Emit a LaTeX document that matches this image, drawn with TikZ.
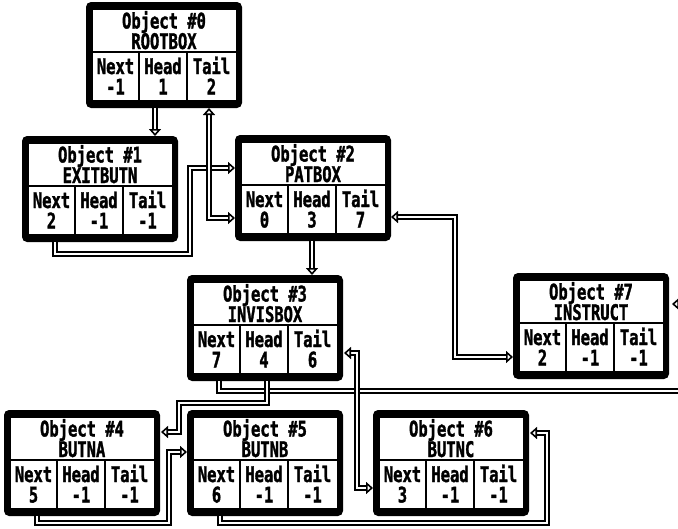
\documentclass[tikz,border=0pt]{standalone}
\usepackage{fontspec}
\newfontfamily\objfont{DejaVu Sans Mono}[FakeStretch=0.72,FakeBold=1.5]
\usetikzlibrary{arrows.meta,calc}
\tikzset{
  objframe/.style={fill=black, rounded corners=5pt, minimum width=156pt, minimum height=106pt, inner sep=0pt, outer sep=0pt},
  objtext/.style={anchor=base, inner sep=0pt, font=\objfont\bfseries\fontsize{21.5}{22}\selectfont},
  otri/.tip={Triangle[open, length=7pt, width=12pt, line width=1.6pt]},
  conn/.style={draw=black, double=white, double distance=2.6pt, line width=1.7pt, -otri},
  conn2/.style={conn, otri-otri},
}
\newcommand\objbox[8]{%
 \begin{scope}[shift={(#2,#3)}]
  \node[objframe] (#1) at (78,53) {};
  \fill[white] (6.5,8) rectangle (149.5,98);
  \fill[black] (6.5,49) rectangle (149.5,51);
  \fill[black] (52,49) rectangle (54,98);
  \fill[black] (100,49) rectangle (102,98);
  \node[objtext] (#1-l1) at (78,26.5) {Object \##4};
  \node[objtext] (#1-l2) at (78,47) {#5};
  \node[objtext] (#1-nl) at (29.5,72) {Next};
  \node[objtext] (#1-hl) at (77,72) {Head};
  \node[objtext] (#1-tl) at (125.5,72) {Tail};
  \node[objtext] (#1-nv) at (29.5,92.5) {#6};
  \node[objtext] (#1-hv) at (77,92.5) {#7};
  \node[objtext] (#1-tv) at (125.5,92.5) {#8};
 \end{scope}}
\begin{document}
\begin{tikzpicture}[x=1pt,y=-1pt]
\useasboundingbox (0,0) rectangle (678,528);
\fill[white] (0,0) rectangle (678,528);
\objbox{o0}{86}{2}{0}{ROOTBOX}{-1}{1}{2}
\objbox{o1}{22}{136}{1}{EXITBUTN}{2}{-1}{-1}
\objbox{o2}{235}{135}{2}{PATBOX}{0}{3}{7}
\objbox{o3}{187}{275}{3}{INVISBOX}{7}{4}{6}
\objbox{o7}{513}{273}{7}{INSTRUCT}{2}{-1}{-1}
\objbox{o4}{4}{410}{4}{BUTNA}{5}{-1}{-1}
\objbox{o5}{187}{410}{5}{BUTNB}{6}{-1}{-1}
\objbox{o6}{373}{410}{6}{BUTNC}{3}{-1}{-1}
% connectors
\draw[conn] ([xshift=33pt]o1.south west) -- ++(0,12) -| ([xshift=-45pt,yshift=-33pt]o2.north west) -- ([yshift=-33pt]o2.north west);
\draw[conn2] ([xshift=123pt]o0.south west) |- ([yshift=-83pt]o2.north west);
\draw[conn] ([xshift=69pt]o0.south west) -- ([xshift=-23pt]o1.north east);
\draw[conn] ([xshift=77pt]o2.south west) -- ([xshift=125pt]o3.north west);
\draw[conn2] ([yshift=-82pt]o2.north east) -| ([xshift=-58pt,yshift=-84pt]o7.north west) -- ([yshift=-84pt]o7.north west);
\draw[conn] ([xshift=32pt]o3.south west) -- ++(0,10) -| ([xshift=40pt,yshift=-31pt]o7.north east) -- ([xshift=3pt,yshift=-31pt]o7.north east);
\draw[conn] ([xshift=80pt]o3.south west) -- ++(0,22) -| ([xshift=19pt,yshift=-22pt]o4.north east) -- ([xshift=1pt,yshift=-22pt]o4.north east);
\draw[conn2] ([xshift=1pt,yshift=-78pt]o3.north east) -| ([xshift=-16pt,yshift=-78pt]o6.north west) -- ([yshift=-78pt]o6.north west);
\draw[conn] ([xshift=33pt]o4.south west) -- ++(0,7) -| ([xshift=-18pt,yshift=-42pt]o5.north west) -- ([yshift=-42pt]o5.north west);
\draw[conn] ([xshift=33pt]o5.south west) -- ++(0,7) -| ([xshift=18pt,yshift=-23pt]o6.north east) -- ([xshift=1pt,yshift=-23pt]o6.north east);
\end{tikzpicture}
\end{document}
